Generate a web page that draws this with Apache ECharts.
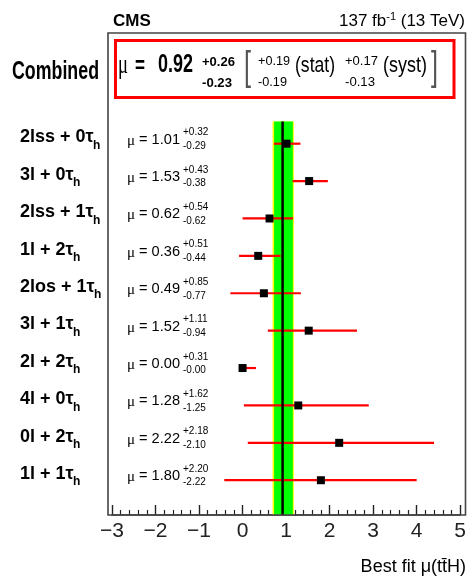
<!DOCTYPE html>
<html>
<head>
<meta charset="utf-8">
<script src="https://cdn.jsdelivr.net/npm/echarts@6/dist/echarts.min.js"></script>
<style>html,body{margin:0;padding:0;background:#fff;}#main{width:469px;height:578px;}</style>
</head>
<body>
<div id="main"></div>
<script>
// ---- data ----
const channels = ['2lss + 0τ', '3l + 0τ', '2lss + 1τ', '1l + 2τ', '2los + 1τ', '3l + 1τ', '2l + 2τ', '4l + 0τ', '0l + 2τ', '1l + 1τ'];
const mu       = [1.01, 1.53, 0.62, 0.36, 0.49, 1.52, 0.00, 1.28, 2.22, 1.80];
const errUp    = [0.32, 0.43, 0.54, 0.51, 0.85, 1.11, 0.31, 1.62, 2.18, 2.20];
const errDown  = [0.29, 0.38, 0.62, 0.44, 0.77, 0.94, 0.00, 1.25, 2.10, 2.22];
const combinedMu = 0.92;
const combinedUp = 0.26;
const combinedDown = 0.23;
const statUp = 0.19, statDown = 0.19;
const systUp = 0.17, systDown = 0.13;
const greenBand = [0.725, 1.155];
const xTicks = [-3, -2, -1, 0, 1, 2, 3, 4, 5];

// ---- layout helpers ----
const rows = channels.map((c, i) => i + 1);
const yMin = -1.96, yMax = 10.93, bandTop = 0.41;
const SANS = '"Liberation Sans", Arial, Helvetica, sans-serif';
const SERIF = '"Liberation Serif", "Times New Roman", serif';
const ctx = document.createElement('canvas').getContext('2d');
function tw(text, size, weight, family) {
  ctx.font = (weight || 'normal') + ' ' + size + 'px ' + family;
  return ctx.measureText(text).width;
}
function txt(text, x, y, size, weight, family, opts) {
  opts = opts || {};
  const el = {
    type: 'text', x: x, y: y, z: 100,
    style: {
      text: text, fontSize: size, fontWeight: weight || 'normal', fontFamily: family || SANS,
      fill: opts.color || '#000',
      align: opts.align || 'left', verticalAlign: 'middle',
      textAlign: opts.align || 'left', textVerticalAlign: 'middle'
    }
  };
  if (opts.x1 !== undefined) {
    el.scaleX = (opts.x1 - x) / tw(text, size, weight, family || SANS);
  }
  return el;
}

const chart = echarts.init(document.getElementById('main'), null, {renderer: 'canvas'});
chart.setOption({
  animation: false,
  backgroundColor: '#fff',
  grid: {left: 112, right: 7, top: 33, bottom: 63},
  xAxis: {
    type: 'value', min: xTicks[0], max: xTicks[xTicks.length - 1], interval: 1,
    axisLine: {show: true, onZero: false, lineStyle: {color: '#333', width: 1.6}},
    axisTick: {show: true, inside: true, length: 10, lineStyle: {color: '#222', width: 1.4}},
    minorTick: {show: true, splitNumber: 5, length: 5, lineStyle: {color: '#222', width: 1.2}},
    splitLine: {show: false},
    axisLabel: {
      fontSize: 21, color: '#222', fontFamily: SANS, margin: 6,
      formatter: v => String(v).replace('-', '\u2212')
    }
  },
  yAxis: {type: 'value', inverse: true, min: yMin, max: yMax, show: false},
  series: [
    {
      type: 'custom', z: 1, silent: true,
      data: [[combinedMu - combinedDown, combinedMu + combinedUp], [greenBand[0], greenBand[1]]],
      renderItem: (params, api) => {
        const p1 = api.coord([api.value(0), bandTop]);
        const p2 = api.coord([api.value(1), yMax]);
        return {type: 'rect', shape: {x: p1[0], y: p1[1], width: p2[0] - p1[0], height: p2[1] - p1[1]},
                style: {fill: params.dataIndex === 0 ? '#ffff00' : '#00ff00'}};
      }
    },
    {
      type: 'custom', z: 2, silent: true,
      data: mu.map((m, i) => [m - errDown[i], m + errUp[i], rows[i]]),
      renderItem: (params, api) => {
        const p1 = api.coord([api.value(0), api.value(2)]);
        const p2 = api.coord([api.value(1), api.value(2)]);
        return {type: 'line', shape: {x1: p1[0], y1: p1[1], x2: p2[0], y2: p2[1]},
                style: {stroke: '#ff0000', lineWidth: 2.2}};
      }
    },
    {
      type: 'custom', z: 3, silent: true,
      data: [[combinedMu]],
      renderItem: (params, api) => {
        const p1 = api.coord([api.value(0), bandTop]);
        const p2 = api.coord([api.value(0), yMax]);
        return {type: 'line', shape: {x1: p1[0], y1: p1[1], x2: p2[0], y2: p2[1]},
                style: {stroke: '#000', lineWidth: 2.5}};
      }
    },
    {
      type: 'scatter', z: 4, silent: true,
      symbol: 'rect', symbolSize: 8,
      itemStyle: {color: '#000', opacity: 1},
      data: mu.map((m, i) => [m, rows[i]])
    }
  ]
});

// ---- text / frame graphics ----
const els = [];
els.push({type: 'rect', z: 90, shape: {x: 108, y: 33, width: 357.5, height: 482},
          style: {fill: null, stroke: '#444', lineWidth: 1.6}});
els.push({type: 'rect', z: 90, shape: {x: 115.5, y: 40.5, width: 338.5, height: 57},
          style: {fill: null, stroke: '#ff0000', lineWidth: 3}});
els.push(txt('CMS', 113, 21, 17, 'bold'));
{
  const r = 465;
  const w3 = tw(' (13 TeV)', 17, 'normal', SANS);
  const w2 = tw('-1', 11, 'normal', SANS);
  const w1 = tw('137 fb', 17, 'normal', SANS);
  els.push(txt(' (13 TeV)', r - w3, 21, 17));
  els.push(txt('-1', r - w3 - w2, 16.5, 11));
  els.push(txt('137 fb', r - w3 - w2 - w1, 21, 17));
}
els.push(txt('Combined', 12, 72.5, 25, 'bold', SANS, {x1: 99}));
els.push(txt('μ', 118, 66, 28, 'normal', SERIF, {x1: 128}));
els.push(txt('=', 135, 66, 24, 'bold', SANS, {x1: 145}));
els.push(txt(combinedMu.toFixed(2), 158, 65, 26, 'bold', SANS, {x1: 193}));
els.push(txt('+' + combinedUp.toFixed(2), 202, 62, 13, 'bold', SANS, {x1: 235}));
els.push(txt('-' + combinedDown.toFixed(2), 202, 83, 13, 'bold', SANS, {x1: 232}));
els.push(txt('[', 244, 69, 40, 'normal', SANS, {x1: 251, color: '#555'}));
els.push(txt('+' + statUp.toFixed(2), 258, 61, 13, 'normal', SANS, {x1: 290}));
els.push(txt('-' + statDown.toFixed(2), 258, 82, 13, 'normal', SANS, {x1: 287}));
els.push(txt('(stat)', 295, 66, 22, 'normal', SANS, {x1: 335}));
els.push(txt('+' + systUp.toFixed(2), 345, 61, 13, 'normal', SANS, {x1: 378}));
els.push(txt('-' + systDown.toFixed(2), 345, 82, 13, 'normal', SANS, {x1: 375}));
els.push(txt('(syst)', 383, 66, 22, 'normal', SANS, {x1: 427}));
els.push(txt(']', 431, 69, 40, 'normal', SANS, {x1: 438, color: '#555'}));
rows.forEach((r, i) => {
  const y = chart.convertToPixel({yAxisIndex: 0}, r);
  const lw = tw(channels[i], 18, 'bold', SANS);
  els.push(txt(channels[i], 20, y - 6.2, 18, 'bold'));
  els.push(txt('h', 20 + lw - 0.5, y + 1.8, 12, 'bold'));
  els.push(txt('μ', 127, y - 3, 15, 'normal', SERIF));
  els.push(txt('= ' + mu[i].toFixed(2), 139, y - 4, 14, 'normal', SANS, {x1: 180}));
  els.push(txt('+' + errUp[i].toFixed(2), 183, y - 11.2, 10));
  els.push(txt('-' + errDown[i].toFixed(2), 183, y + 2.5, 10));
});
els.push(txt('Best fit μ(tt\u0304H)', 466, 567, 18, 'normal', SANS, {align: 'right'}));

chart.setOption({graphic: {elements: els}});
</script>
</body>
</html>
